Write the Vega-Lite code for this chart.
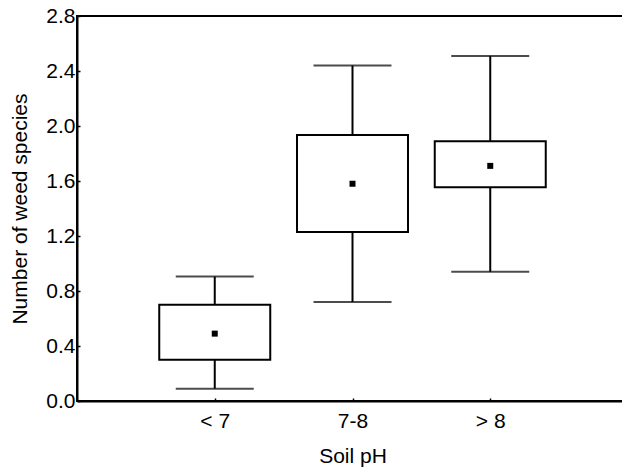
{
  "$schema": "https://vega.github.io/schema/vega-lite/v6.json",
  "width": 551,
  "height": 385,
  "autosize": {"type": "none"},
  "padding": {"left": 77, "top": 16, "right": 0, "bottom": 69},
  "background": "white",
  "config": {
    "view": {"stroke": "black", "strokeWidth": 2},
    "font": "Liberation Sans",
    "axis": {
      "labelFont": "Liberation Sans",
      "titleFont": "Liberation Sans",
      "labelFontSize": 21,
      "titleFontSize": 21,
      "titleFontWeight": "normal",
      "labelColor": "black",
      "titleColor": "black",
      "domainColor": "black",
      "domainWidth": 2,
      "tickColor": "black",
      "tickWidth": 1.5,
      "grid": false
    }
  },
  "data": {
    "values": [
      {"pH": "< 7", "min": 0.09, "q1": 0.30, "mean": 0.49, "q3": 0.70, "max": 0.905},
      {"pH": "7-8", "min": 0.72, "q1": 1.23, "mean": 1.58, "q3": 1.935, "max": 2.44},
      {"pH": "> 8", "min": 0.94, "q1": 1.555, "mean": 1.71, "q3": 1.89, "max": 2.51}
    ]
  },
  "encoding": {
    "x": {
      "field": "pH",
      "type": "nominal",
      "sort": null,
      "scale": {"type": "point", "padding": 1, "align": 0.5},
      "axis": {"title": "Soil pH", "labelAngle": 0, "tickSize": -3, "labelPadding": 12, "titlePadding": 14}
    }
  },
  "layer": [
    {
      "mark": {"type": "rule", "color": "black", "strokeWidth": 2},
      "encoding": {
        "y": {
          "field": "min",
          "type": "quantitative",
          "scale": {"domain": [0, 2.8], "nice": false},
          "axis": {"title": "Number of weed species", "values": [0, 0.4, 0.8, 1.2, 1.6, 2.0, 2.4, 2.8], "format": ".1f", "tickSize": -3, "labelPadding": 5, "titlePadding": 15}
        },
        "y2": {"field": "max"}
      }
    },
    {
      "mark": {"type": "tick", "color": "black", "size": 78, "thickness": 2},
      "encoding": {"y": {"field": "min", "type": "quantitative"}}
    },
    {
      "mark": {"type": "tick", "color": "black", "size": 78, "thickness": 2},
      "encoding": {"y": {"field": "max", "type": "quantitative"}}
    },
    {
      "mark": {"type": "bar", "size": 111, "fill": "white", "stroke": "black", "strokeWidth": 2},
      "encoding": {"y": {"field": "q1", "type": "quantitative"}, "y2": {"field": "q3"}}
    },
    {
      "mark": {"type": "point", "shape": "square", "filled": true, "color": "black", "size": 36, "opacity": 1},
      "encoding": {"y": {"field": "mean", "type": "quantitative"}}
    }
  ]
}
